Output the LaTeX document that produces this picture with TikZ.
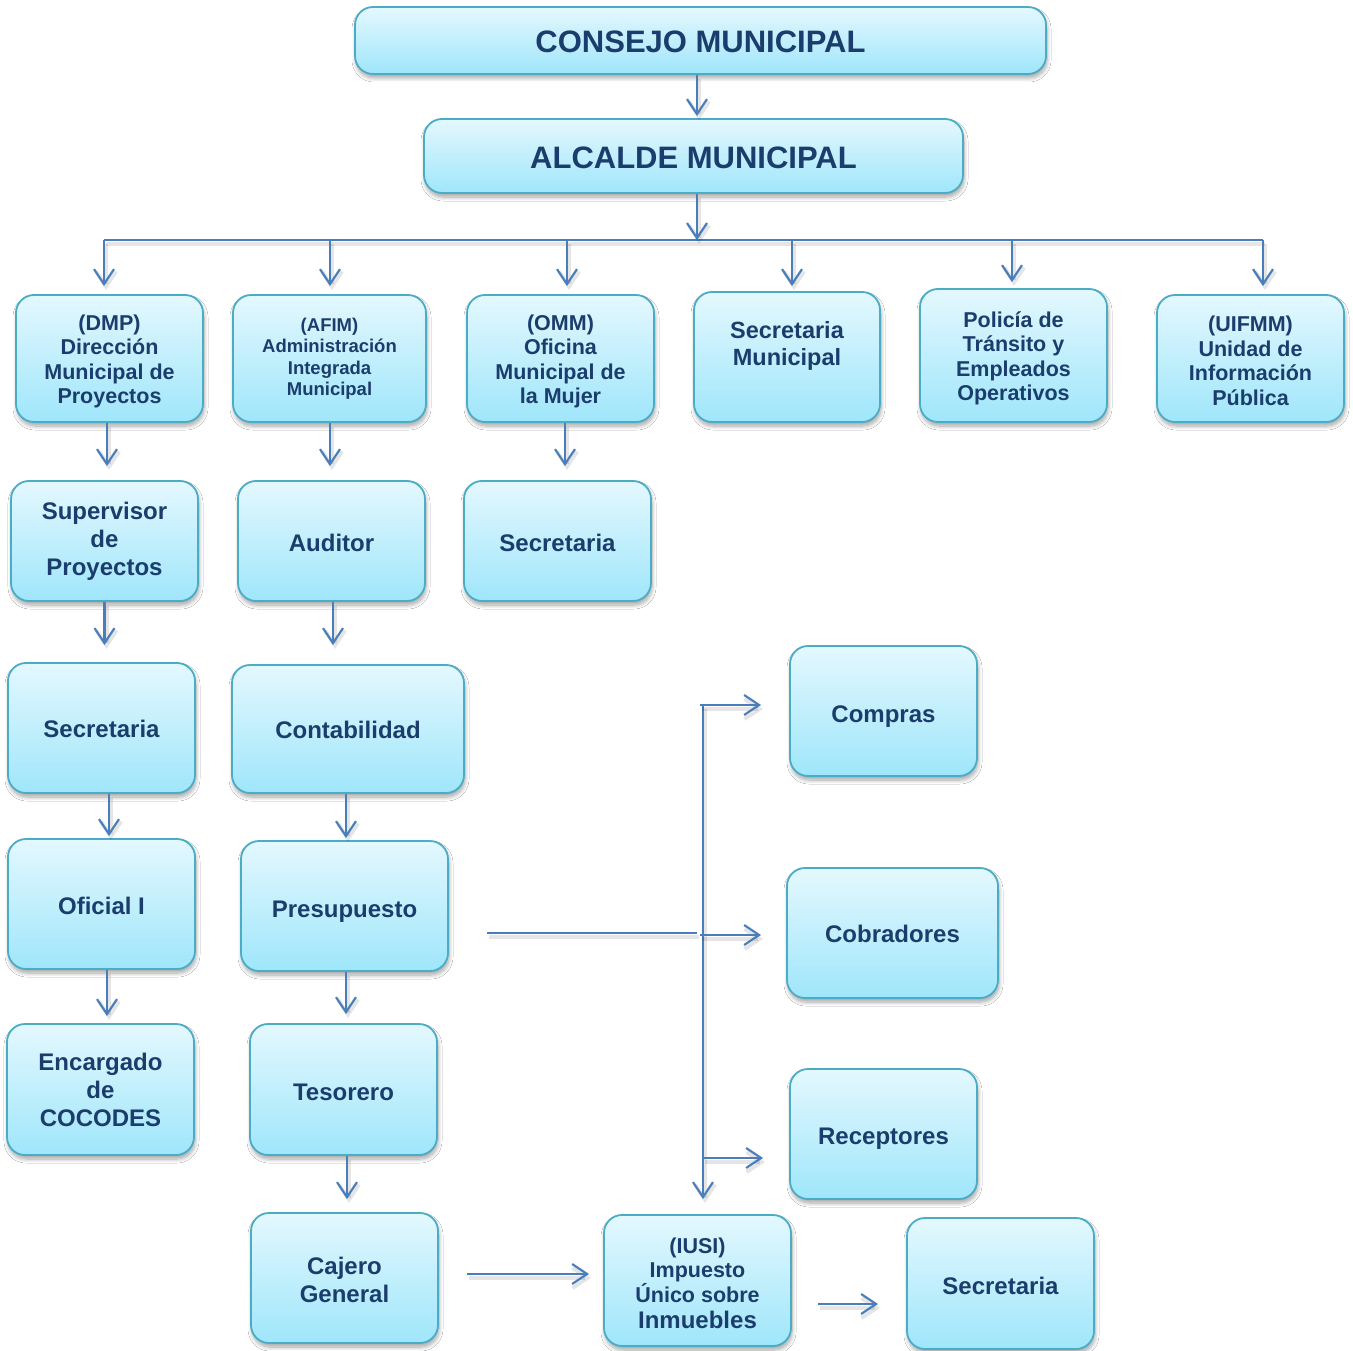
\documentclass[tikz,border=0pt]{standalone}
\usepackage{fontspec}
\setmainfont{Liberation Sans}
\usetikzlibrary{arrows.meta,shadows,shadows.blur,calc}
\definecolor{txt}{HTML}{1B3D6D}
\definecolor{bord}{HTML}{4BACC6}
\definecolor{arrc}{HTML}{4A7EBB}
\definecolor{topc}{HTML}{E4F8FE}
\definecolor{botc}{HTML}{9FE6FB}
\newcommand\lowr[1][0.9em]{\rule{0pt}{#1}}
\begin{document}
\begin{tikzpicture}[x=1pt,y=-1pt,
  box/.style={draw=bord, line width=1.8pt, rounded corners=18pt,
    top color=topc, bottom color=botc, text=txt, align=center, inner sep=0pt,
    font=\bfseries\fontsize{24}{28}\selectfont,
    blur shadow={shadow xshift=1pt, shadow yshift=-4pt, shadow blur steps=8, shadow blur radius=4pt, shadow opacity=35}},
  sz/.style 2 args={minimum width=#1pt, minimum height=#2pt},
  big/.style={font=\bfseries\fontsize{31}{36}\selectfont},
  mid/.style={font=\bfseries\fontsize{21.5}{24.5}\selectfont},
  small/.style={font=\bfseries\fontsize{18.5}{21.5}\selectfont},
  conn/.style={draw=arrc, line width=2.2pt,
    preaction={draw=black, opacity=0.10, line width=4pt, transform canvas={xshift=2pt,yshift=-4pt}}},
  arr/.style={conn, -{Straight Barb[length=15pt,width=20pt]}}
]
\useasboundingbox[fill=white] (0,0) rectangle (1353,1351);

% top
\node[box, big, sz={691}{67}] (consejo) at (700.5,40.5) {\lowr[0.8em]CONSEJO MUNICIPAL};
\node[box, big, sz={539}{74}] (alcalde) at (693.5,156) {\lowr[0.8em]ALCALDE MUNICIPAL};

% row 1
\node[box, mid, sz={187}{127}] (dmp) at (109.5,358.5) {\lowr[1em](DMP)\\Dirección\\Municipal de\\Proyectos};
\node[box, small, sz={193}{127}] (afim) at (329.5,358.5) {(AFIM)\\Administración\\Integrada\\Municipal};
\node[box, mid, sz={187}{127}] (omm) at (560.5,358.5) {\lowr[1em](OMM)\\Oficina\\Municipal de\\la Mujer};
\node[box, font=\bfseries\fontsize{23.5}{27}\selectfont, sz={186}{130}] (secmun) at (787,357) {Secretaria\\Municipal\\\mbox{}};
\node[box, mid, sz={187}{133}] (policia) at (1013.5,355.5) {\lowr[1em]Policía de\\Tránsito y\\Empleados\\Operativos};
\node[box, mid, sz={187}{127}] (uifmm) at (1250.5,358.5) {\lowr[0.95em](UIFMM)\\Unidad de\\Información\\Pública};

% row 2
\node[box, sz={187}{120}] (sup) at (104.5,541) {Supervisor\\de\\Proyectos};
\node[box, sz={187}{120}] (aud) at (331.5,541) {\lowr Auditor};
\node[box, sz={187}{120}] (sec2) at (557.5,541) {\lowr Secretaria};

% row 3
\node[box, sz={187}{130}] (sec3) at (101.5,728) {\lowr[0.82em]Secretaria};
\node[box, sz={232}{128}] (conta) at (348,729) {\lowr[0.82em]Contabilidad};

% row 4
\node[box, sz={187}{130}] (oficial) at (101.5,904) {\lowr Oficial I};
\node[box, sz={207}{130}] (presu) at (344.5,906) {\lowr[1.15em]Presupuesto};

% row 5
\node[box, sz={187}{131}] (cocodes) at (100.5,1089.5) {Encargado\\de\\COCODES};
\node[box, sz={187}{131}] (teso) at (343.5,1089.5) {\lowr Tesorero};

% row 6
\node[box, sz={187}{130}] (cajero) at (344.5,1278) {\lowr[0.85em]Cajero\\General};
\node[box, mid, sz={187}{131}] (iusi) at (697.5,1280.5) {\lowr[0.95em](IUSI)\\Impuesto\\Único sobre\\[1.5pt]{\fontsize{24}{28}\selectfont Inmuebles}};
\node[box, sz={187}{131}] (sec4) at (1000.5,1283.5) {\lowr Secretaria};

% right column
\node[box, sz={187}{130}] (compras) at (883.5,711) {\lowr[1.15em]Compras};
\node[box, sz={211}{130}] (cobra) at (892.5,933) {\lowr[0.82em]Cobradores};
\node[box, sz={187}{130}] (recep) at (883.5,1134) {\lowr[1.08em]Receptores};

% helper coordinates
\coordinate (a1) at (697,0);
\coordinate (k1) at (104,240);
\coordinate (k2) at (330,240);
\coordinate (k3) at (567,240);
\coordinate (k4) at (792,240);
\coordinate (k5) at (1012,240);
\coordinate (k6) at (1263,240);
\coordinate (h1) at (0,1274);
\coordinate (h2) at (0,1304);
\coordinate (h3) at (0,933);
\coordinate (t1) at (703,705);
\coordinate (t2) at (703,935);
\coordinate (t3) at (703,1158);

% top connectors
\draw[arr, shorten >=2pt] (consejo.south -| a1) -- (alcalde.north -| a1);
\draw[conn] (k1) -- (k6);
\draw[arr] (alcalde.south -| a1) -- (a1 |- k1);
\draw[arr, shorten >=8pt] (k1) -- (k1 |- dmp.north);
\draw[arr, shorten >=8pt] (k2) -- (k2 |- afim.north);
\draw[arr, shorten >=8pt] (k3) -- (k3 |- omm.north);
\draw[arr, shorten >=5pt] (k4) -- (k4 |- secmun.north);
\draw[arr, shorten >=6pt] (k5) -- (k5 |- policia.north);
\draw[arr, shorten >=8pt] (k6) -- (k6 |- uifmm.north);

% vertical chains
\draw[arr, shorten >=14pt] ([xshift=-2.5pt]dmp.south) -- ([xshift=-2.5pt]dmp.south |- sup.north);
\draw[arr, shorten >=14pt] ([xshift=0.5pt]afim.south) -- ([xshift=0.5pt]afim.south |- aud.north);
\draw[arr, shorten >=14pt] ([xshift=4.5pt]omm.south) -- ([xshift=4.5pt]omm.south |- sec2.north);
\draw[arr, shorten >=17pt] (sup.south) -- (sup.south |- sec3.north);
\draw[arr, shorten >=19pt] ([xshift=1.5pt]aud.south) -- ([xshift=1.5pt]aud.south |- conta.north);
\draw[arr, shorten >=2pt] ([xshift=7.5pt]sec3.south) -- ([xshift=7.5pt]sec3.south |- oficial.north);
\draw[arr, shorten >=2pt] ([xshift=-2pt]conta.south) -- ([xshift=-2pt]conta.south |- presu.north);
\draw[arr, shorten >=7pt] ([xshift=5.5pt]oficial.south) -- ([xshift=5.5pt]oficial.south |- cocodes.north);
\draw[arr, shorten >=9pt] ([xshift=1.5pt]presu.south) -- ([xshift=1.5pt]presu.south |- teso.north);
\draw[arr, shorten >=13pt] ([xshift=3.5pt]teso.south) -- ([xshift=3.5pt]teso.south |- cajero.north);

% bottom horizontal
\draw[arr, shorten <=28pt, shorten >=14pt] (cajero.east |- h1) -- (iusi.west |- h1);
\draw[arr, shorten <=26pt, shorten >=28pt] (iusi.east |- h2) -- (sec4.west |- h2);

% right trunk
\draw[conn, shorten <=38pt, shorten >=6pt] (presu.east |- h3) -- (t1 |- h3);
\draw[arr, shorten >=15pt] (t1) -- (t1 |- iusi.north);
\draw[arr, shorten >=28pt] ([xshift=-3pt]t1) -- (compras.west |- t1);
\draw[arr, shorten >=25pt] ([xshift=-3pt]t2) -- (cobra.west |- t2);
\draw[arr, shorten >=26pt] (t3) -- (recep.west |- t3);
\end{tikzpicture}
\end{document}
